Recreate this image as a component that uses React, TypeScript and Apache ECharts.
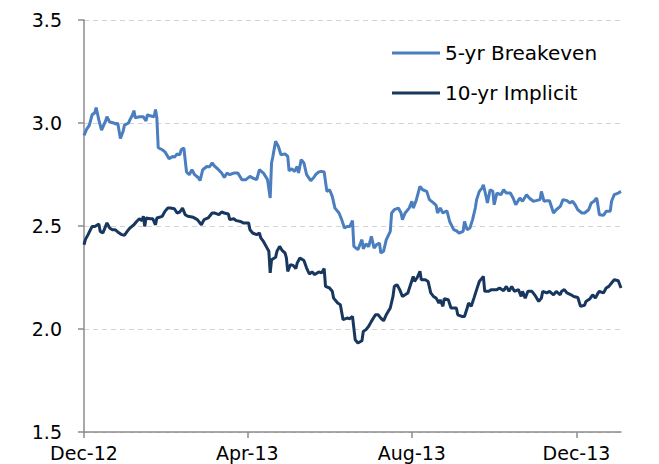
import React, { useEffect, useRef } from "react";
import * as echarts from "echarts";

// Days counted from 1 Dec 2012
const tickDays = [0, 121, 243, 365];
const tickLabels = ["Dec-12", "Apr-13", "Aug-13", "Dec-13"];
const yTicks = [1.5, 2.0, 2.5, 3.0, 3.5];

const fiveYrDays = [
  0, 2, 4, 6, 8, 9, 11, 13, 16, 17, 19, 22, 24, 25, 27, 29, 30, 33, 34, 36,
  37, 38, 41, 44, 46, 47, 49, 52, 53, 54, 55, 58, 60, 63, 66, 67, 69, 71, 72, 74,
  76, 78, 80, 82, 85, 86, 88, 91, 93, 95, 97, 99, 102, 104, 106, 108, 111, 114, 117, 120,
  123, 125, 128, 130, 133, 136, 138, 139, 140, 142, 144, 146, 149, 151, 152, 154, 156, 158, 159, 161,
  163, 165, 168, 170, 172, 174, 176, 178, 180, 182, 184, 186, 189, 191, 193, 195, 197, 199, 200, 203,
  206, 207, 209, 211, 213, 215, 217, 219, 220, 222, 224, 227, 228, 230, 233, 235, 236, 238, 241, 243,
  244, 246, 249, 251, 254, 256, 259, 261, 262, 264, 266, 269, 271, 274, 276, 278, 281, 282, 284, 286,
  288, 290, 291, 293, 295, 296, 298, 299, 301, 303, 304, 306, 309, 311, 313, 316, 318, 320, 323, 325,
  328, 330, 333, 335, 338, 339, 341, 343, 345, 348, 350, 353, 355, 358, 360, 362, 364, 366, 369, 371,
  374, 376, 378, 380, 382, 385, 387, 390, 391, 393, 396, 398
];
const fiveYrValues = [
  2.94, 2.97, 2.99, 3.04, 3.05, 3.075, 3.015, 2.965, 3.01, 3.03, 3.005, 3.0, 2.995, 3.0, 2.925, 2.96, 2.99, 3.0, 3.015, 3.04,
  3.06, 3.025, 3.03, 3.03, 3.01, 3.04, 3.035, 3.03, 3.065, 3.025, 2.88, 2.87, 2.86, 2.827, 2.838, 2.833, 2.85, 2.845, 2.87, 2.879,
  2.762, 2.749, 2.773, 2.749, 2.733, 2.72, 2.773, 2.789, 2.787, 2.806, 2.789, 2.778, 2.757, 2.736, 2.757, 2.749, 2.757, 2.757, 2.725, 2.725,
  2.741, 2.733, 2.725, 2.773, 2.757, 2.725, 2.636, 2.806, 2.838, 2.911, 2.887, 2.846, 2.85, 2.838, 2.768, 2.778, 2.765, 2.789, 2.757, 2.822,
  2.806, 2.749, 2.72, 2.733, 2.752, 2.762, 2.765, 2.762, 2.668, 2.676, 2.644, 2.587, 2.563, 2.531, 2.49, 2.498, 2.498, 2.526, 2.401, 2.385,
  2.434, 2.39, 2.413, 2.4, 2.45, 2.393, 2.41, 2.417, 2.369, 2.377, 2.433, 2.474, 2.563, 2.579, 2.587, 2.563, 2.531, 2.563, 2.587, 2.62,
  2.587, 2.62, 2.692, 2.676, 2.668, 2.628, 2.612, 2.6, 2.563, 2.587, 2.563, 2.574, 2.522, 2.482, 2.477, 2.466, 2.474, 2.522, 2.482, 2.49,
  2.531, 2.587, 2.628, 2.668, 2.684, 2.7, 2.644, 2.612, 2.676, 2.668, 2.603, 2.66, 2.652, 2.676, 2.66, 2.66, 2.636, 2.603, 2.636, 2.62,
  2.652, 2.636, 2.62, 2.623, 2.628, 2.668, 2.62, 2.623, 2.623, 2.563, 2.579, 2.595, 2.628, 2.623, 2.612, 2.62, 2.603, 2.579, 2.563, 2.563,
  2.579, 2.612, 2.62, 2.636, 2.555, 2.552, 2.571, 2.571, 2.62, 2.652, 2.66, 2.668
];

const tenYrDays = [
  0, 1, 3, 6, 8, 11, 12, 14, 17, 19, 21, 23, 25, 28, 30, 32, 34, 37, 39, 41,
  43, 44, 45, 46, 49, 51, 53, 54, 58, 60, 62, 64, 67, 69, 71, 73, 75, 77, 81, 84,
  87, 89, 92, 95, 97, 100, 102, 104, 107, 108, 111, 113, 116, 118, 122, 123, 125, 128, 130, 131,
  133, 135, 137, 138, 139, 142, 143, 145, 147, 149, 150, 151, 153, 155, 157, 158, 160, 163, 165, 167,
  169, 171, 174, 176, 178, 179, 182, 184, 185, 188, 190, 192, 195, 197, 199, 201, 203, 206, 207, 209,
  211, 213, 216, 218, 220, 222, 224, 227, 229, 230, 232, 234, 236, 238, 240, 242, 244, 245, 247, 249,
  250, 253, 255, 257, 259, 261, 263, 264, 266, 267, 270, 272, 274, 276, 277, 280, 282, 284, 285, 287,
  289, 291, 293, 295, 296, 297, 300, 302, 306, 308, 311, 313, 315, 317, 319, 322, 324, 325, 327, 329,
  332, 334, 337, 339, 340, 343, 345, 348, 350, 353, 354, 356, 358, 361, 363, 366, 368, 371, 372, 375,
  377, 379, 381, 382, 385, 387, 389, 391, 393, 396, 398
];
const tenYrValues = [
  2.409, 2.434, 2.458, 2.498, 2.498, 2.51, 2.474, 2.466, 2.515, 2.49, 2.482, 2.482, 2.471, 2.458, 2.455, 2.474, 2.49, 2.506, 2.522, 2.535,
  2.526, 2.547, 2.498, 2.539, 2.535, 2.535, 2.506, 2.539, 2.547, 2.571, 2.587, 2.587, 2.584, 2.563, 2.568, 2.587, 2.555, 2.547, 2.542, 2.531,
  2.506, 2.531, 2.539, 2.563, 2.563, 2.555, 2.568, 2.563, 2.558, 2.531, 2.535, 2.526, 2.522, 2.515, 2.515, 2.482, 2.466, 2.458, 2.466, 2.442,
  2.425, 2.401, 2.377, 2.272, 2.336, 2.348, 2.377, 2.401, 2.38, 2.369, 2.345, 2.28, 2.312, 2.309, 2.293, 2.32, 2.345, 2.332, 2.296, 2.267,
  2.277, 2.264, 2.277, 2.272, 2.293, 2.207, 2.199, 2.183, 2.15, 2.126, 2.118, 2.045, 2.053, 2.05, 2.061, 1.948, 1.932, 1.943, 1.988, 1.997,
  2.013, 2.037, 2.069, 2.069, 2.053, 2.04, 2.069, 2.102, 2.158, 2.207, 2.215, 2.191, 2.158, 2.166, 2.175, 2.215, 2.255, 2.231, 2.25, 2.28,
  2.239, 2.239, 2.231, 2.175, 2.158, 2.15, 2.126, 2.142, 2.11, 2.147, 2.142, 2.102, 2.102, 2.102, 2.069, 2.061, 2.061, 2.102, 2.126, 2.11,
  2.15, 2.191, 2.231, 2.247, 2.255, 2.183, 2.183, 2.191, 2.191, 2.199, 2.186, 2.207, 2.183, 2.207, 2.183, 2.191, 2.158, 2.183, 2.15, 2.183,
  2.183, 2.166, 2.134, 2.15, 2.183, 2.175, 2.183, 2.166, 2.183, 2.166, 2.183, 2.191, 2.175, 2.166, 2.158, 2.153, 2.11, 2.115, 2.134, 2.147,
  2.166, 2.15, 2.175, 2.183, 2.175, 2.199, 2.207, 2.223, 2.239, 2.234, 2.199
];

const seriesNames = ["5-yr Breakeven", "10-yr Implicit"];
const seriesColors = ["#4a7ebf", "#17375e"];

const FONT = "DejaVu Sans";

export default function App() {
  const ref = useRef<HTMLDivElement>(null);
  useEffect(() => {
    if (!ref.current) return;
    const chart = echarts.init(ref.current, undefined, { renderer: "svg" });
    const pairs = (d: number[], v: number[]) => d.map((x, i) => [x, v[i]]);
    chart.setOption({
      animation: false,
      backgroundColor: "#ffffff",
      grid: { left: 84, right: 38, top: 20, bottom: 32, containLabel: false },
      legend: {
        orient: "vertical",
        left: 387,
        top: 38,
        icon: "rect",
        itemWidth: 48,
        itemHeight: 3,
        itemGap: 20,
        textStyle: { fontFamily: FONT, fontSize: 20, color: "#000", lineHeight: 20 },
        data: seriesNames,
      },
      xAxis: {
        type: "value",
        min: 0,
        max: 398,
        axisLine: { show: true, lineStyle: { color: "#8c8c8c", width: 1.5 } },
        axisTick: {
          show: true,
          length: 6,
          lineStyle: { color: "#8c8c8c", width: 1.5 },
          customValues: tickDays,
        },
        axisLabel: {
          customValues: tickDays,
          formatter: (val: number) => {
            const i = tickDays.indexOf(Math.round(val));
            return i >= 0 ? tickLabels[i] : "";
          },
          fontFamily: FONT,
          fontSize: 19,
          lineHeight: 19,
          color: "#000",
          margin: 11,
        },
        splitLine: { show: false },
      },
      yAxis: {
        type: "value",
        min: 1.5,
        max: 3.5,
        interval: 0.5,
        axisLine: { show: true, lineStyle: { color: "#8c8c8c", width: 1.5 } },
        axisTick: { show: true, length: 6, lineStyle: { color: "#8c8c8c", width: 1.5 } },
        axisLabel: {
          formatter: (v: number) => (yTicks.includes(v) ? v.toFixed(1) : ""),
          fontFamily: FONT,
          fontSize: 19,
          color: "#000",
          margin: 22,
        },
        splitLine: { show: true, lineStyle: { color: "#d4d4d4", type: [5, 4], width: 1 } },
      },
      series: [
        {
          name: seriesNames[0],
          type: "line",
          data: pairs(fiveYrDays, fiveYrValues),
          symbol: "none",
          lineStyle: { color: seriesColors[0], width: 3 },
          itemStyle: { color: seriesColors[0] },
          z: 3,
        },
        {
          name: seriesNames[1],
          type: "line",
          data: pairs(tenYrDays, tenYrValues),
          symbol: "none",
          lineStyle: { color: seriesColors[1], width: 3 },
          itemStyle: { color: seriesColors[1] },
          z: 2,
        },
      ],
    });
    return () => chart.dispose();
  }, []);
  return <div ref={ref} style={{ width: 659, height: 464, position: "absolute", left: 0, top: 0 }} />;
}
